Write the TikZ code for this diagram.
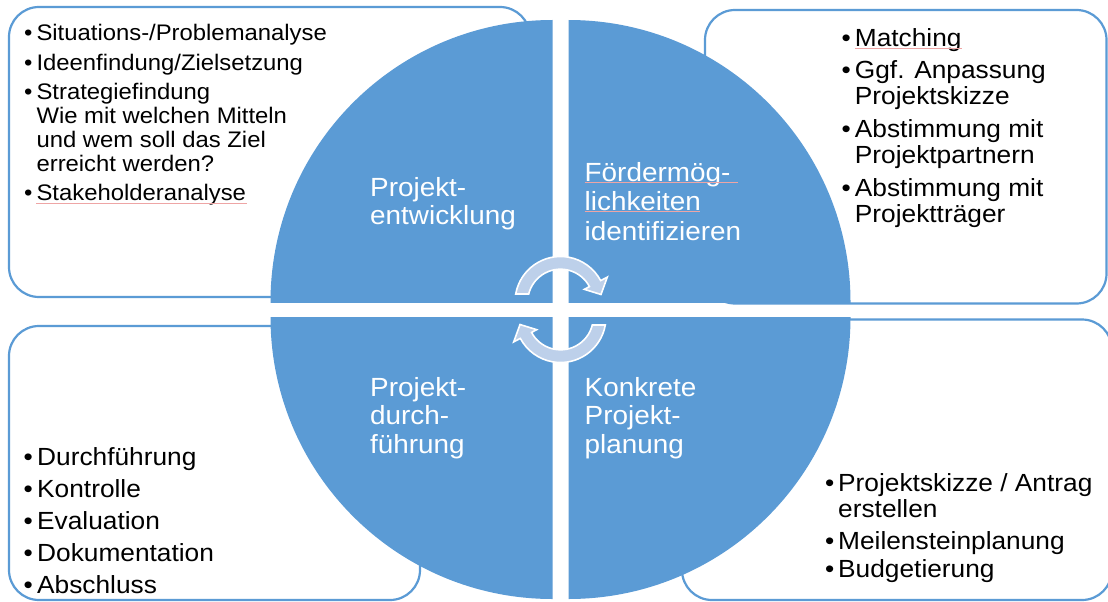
\documentclass[tikz,border=0pt]{standalone}
\usepackage{fontspec}
\setmainfont{Liberation Sans}[FakeStretch=1.06]
\definecolor{quad}{RGB}{91,155,213}
\definecolor{arrowfill}{RGB}{189,208,234}
\definecolor{spell}{RGB}{238,165,165}

% one curved cycle arrow, drawn around its own centre
\tikzset{
  cyclearrow/.pic={
    \begin{scope}[yscale=-1]
      \filldraw[fill=arrowfill, draw=white, line width=1.6pt, line join=miter]
        (-32.8,8) -- (-44.8,8)
        arc[start angle=169.9, end angle=28, radius=45.5]
        -- (28:53) -- (40.5,7.5) -- (28:27) -- (28:32.8)
        arc[start angle=28, end angle=165.9, radius=32.8] -- cycle;
    \end{scope}
  }
}

\begin{document}
\begin{tikzpicture}[x=1pt,y=-1pt,
  listbox/.style={draw=quad, line width=2.2pt, rounded corners=30pt},
  itemtext/.style={anchor=base west, inner sep=0pt, text=black},
  phase/.style={anchor=base west, inner sep=0pt, text=white},
  spellmark/.style={draw=spell, line width=0.6pt},
]
\useasboundingbox (0,0) rectangle (1108,602);
\fill[white] (0,0) rectangle (1108,602);

% framed lists behind the wheel
\draw[listbox] (9,7) rectangle (530,297);
\draw[listbox] (705,10) rectangle (1106.5,303.5);
\draw[listbox] (9,326) rectangle (420,600);
\draw[listbox] (682,319.5) rectangle (1112,600);

% the four quarters of the wheel
\begin{scope}
  \clip (0,0) rectangle (552.5,302);
  \fill[quad] (552.5,302) circle[radius=282];
\end{scope}
\begin{scope}
  \clip (568.5,0) rectangle (1108,302);
  \fill[quad] (568.5,302) circle[radius=282];
\end{scope}
\begin{scope}
  \clip (0,317) rectangle (552.5,602);
  \fill[quad] (552.5,317) circle[radius=282];
\end{scope}
\begin{scope}
  \clip (568.5,317) rectangle (1108,602);
  \fill[quad] (568.5,317) circle[radius=282];
\end{scope}

% cycle arrows in the middle
\pic at (560.5,302) {cyclearrow};
\pic[rotate=180] at (560.5,317) {cyclearrow};

% phase labels
\node[phase] (pe) at (370,196.5) {\fontsize{26.3}{28.4}\selectfont
  \begin{tabular}[t]{@{}l@{}}Projekt-\\entwicklung\end{tabular}};
\node[phase] (fm) at (584.5,181) {\fontsize{26.3}{29.5}\selectfont
  \begin{tabular}[t]{@{}l@{}}Fördermög-\\lichkeiten\\identifizieren\end{tabular}};
\node[phase] (pd) at (370,396.5) {\fontsize{26.3}{28.4}\selectfont
  \begin{tabular}[t]{@{}l@{}}Projekt-\\durch-\\führung\end{tabular}};
\node[phase] (kp) at (584.5,396.5) {\fontsize{26.3}{28.4}\selectfont
  \begin{tabular}[t]{@{}l@{}}Konkrete\\Projekt-\\planung\end{tabular}};

% bullet lists
\node[itemtext] (tl) at (24,41) {\fontsize{22.5}{24.3}\selectfont
  \begin{tabular}[t]{@{}l@{\hspace{4pt}}l@{}}
  \textbullet & Situations-/Problemanalyse\\[5.5pt]
  \textbullet & Ideenfindung/Zielsetzung\\[4pt]
  \textbullet & Strategiefindung\\
              & Wie mit welchen Mitteln\\
              & und wem soll das Ziel\\
              & erreicht werden?\\[4.5pt]
  \textbullet & Stakeholderanalyse
  \end{tabular}};

\node[itemtext] (tr) at (841.5,47) {\fontsize{24.8}{26.5}\selectfont
  \begin{tabular}[t]{@{}l@{\hspace{4pt}}l@{}}
  \textbullet & Matching\\[5pt]
  \textbullet & Ggf. Anpassung\\
              & Projektskizze\\[6pt]
  \textbullet & Abstimmung mit\\
              & Projektpartnern\\[6pt]
  \textbullet & Abstimmung mit\\
              & Projektträger
  \end{tabular}};

\node[itemtext] (bl) at (23.5,465) {\fontsize{24.8}{26.5}\selectfont
  \begin{tabular}[t]{@{}l@{\hspace{4.3pt}}l@{}}
  \textbullet & Durchführung\\[5.5pt]
  \textbullet & Kontrolle\\[5.5pt]
  \textbullet & Evaluation\\[5.5pt]
  \textbullet & Dokumentation\\[5.5pt]
  \textbullet & Abschluss
  \end{tabular}};

\node[itemtext] (br) at (825,491.7) {\fontsize{24.8}{25.5}\selectfont
  \begin{tabular}[t]{@{}l@{\hspace{3.8pt}}l@{}}
  \textbullet & Projektskizze / Antrag\\
              & erstellen\\[6.5pt]
  \textbullet & Meilensteinplanung\\[2pt]
  \textbullet & Budgetierung
  \end{tabular}};

% spell-check marks under flagged words
\draw[spellmark] (36,203.5) -- (247,203.5);
\draw[spellmark] (855,48) -- (962,48);
\draw[spellmark] (584.5,182.5) -- (738,182.5);
\draw[spellmark] (584.5,211.5) -- (700,211.5);
\end{tikzpicture}
\end{document}
